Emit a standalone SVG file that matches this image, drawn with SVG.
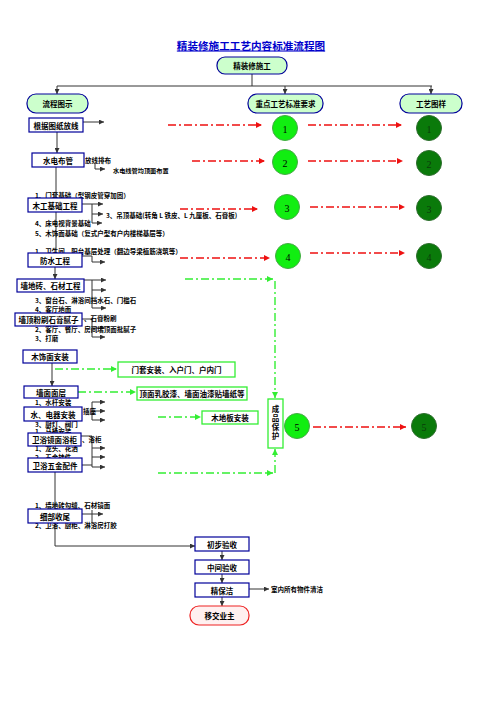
<svg xmlns="http://www.w3.org/2000/svg" width="503" height="711" viewBox="0 0 503 711">
<style>
text{font-family:"Noto Sans CJK SC","Liberation Sans",sans-serif;font-weight:bold;fill:#000}
.t{font-size:7.5px;text-anchor:middle;dominant-baseline:central}
.a{font-size:6.5px;dominant-baseline:central}
.box{fill:#fff;stroke:#000099;stroke-width:1.2}
.rbox{fill:#ccffcc;stroke:#000099;stroke-width:1.2}
.gbox{fill:#fff;stroke:#33ee33;stroke-width:1.3}
.ln{fill:none;stroke:#333;stroke-width:1}
.red{fill:none;stroke:#ee1111;stroke-width:1.4;stroke-dasharray:8 3 2 3}
.grn{fill:none;stroke:#33ee33;stroke-width:1.4;stroke-dasharray:8 3 2 3}
.c1{fill:#11ee11;stroke:#44aa44;stroke-width:1}
.c2{fill:#0a7a0a;stroke:#2d6d2d;stroke-width:1}
.n{font-family:"Liberation Serif",serif;font-weight:normal;font-size:10px;text-anchor:middle;dominant-baseline:central}
</style>
<defs>
<marker id="ak" viewBox="0 0 10 10" refX="10" refY="5" markerWidth="5" markerHeight="5" markerUnits="userSpaceOnUse" orient="auto"><path d="M0,0L10,5L0,10z" fill="#333"/></marker>
<marker id="ar" viewBox="0 0 10 10" refX="10" refY="5" markerWidth="6" markerHeight="6" markerUnits="userSpaceOnUse" orient="auto"><path d="M0,0L10,5L0,10z" fill="#ee1111"/></marker>
<marker id="ag" viewBox="0 0 10 10" refX="10" refY="5" markerWidth="6" markerHeight="6" markerUnits="userSpaceOnUse" orient="auto"><path d="M0,0L10,5L0,10z" fill="#33ee33"/></marker>
</defs>

<text x="251" y="45" style="font-size:10.6px;text-anchor:middle;dominant-baseline:central;fill:#0000cc;text-decoration:underline">精装修施工工艺内容标准流程图</text>

<g id="connectors">
<path class="ln" d="M252,74V86M57,86H432"/>
<path class="ln" d="M57,86V94" marker-end="url(#ak)"/>
<path class="ln" d="M285,86V94" marker-end="url(#ak)"/>
<path class="ln" d="M431,86V94" marker-end="url(#ak)"/>
<path class="ln" d="M57,132V153" marker-end="url(#ak)"/>
<path class="ln" d="M83,122H104" marker-end="url(#ak)"/>
<path class="ln" d="M56,167V198"/>
<path class="ln" d="M95,164V169H105" marker-end="url(#ak)"/>
<path class="ln" d="M56,212V253"/>
<path class="ln" d="M82,204H103" marker-end="url(#ak)"/>
<path class="ln" d="M92,204V223"/>
<path class="ln" d="M92,214H103" marker-end="url(#ak)"/>
<path class="ln" d="M92,223H102" marker-end="url(#ak)"/>
<path class="ln" d="M82,256H92V262H105" marker-end="url(#ak)"/>
<path class="ln" d="M55,267V279" marker-end="url(#ak)"/>
<path class="ln" d="M84,280H106" marker-end="url(#ak)"/>
<path class="ln" d="M92,280V308"/>
<path class="ln" d="M92,290H106" marker-end="url(#ak)"/>
<path class="ln" d="M92,308H106" marker-end="url(#ak)"/>
<path class="ln" d="M82,319H92V337H105" marker-end="url(#ak)"/>
<path class="ln" d="M92,328H105" marker-end="url(#ak)"/>
<path class="ln" d="M52,363V386" marker-end="url(#ak)"/>
<path class="ln" d="M92,402V420"/>
<path class="ln" d="M92,402H105" marker-end="url(#ak)"/>
<path class="ln" d="M92,411H105" marker-end="url(#ak)"/>
<path class="ln" d="M92,420H105" marker-end="url(#ak)"/>
<path class="ln" d="M81,436H92V467"/>
<path class="ln" d="M82,465H92"/>
<path class="ln" d="M92,448H105" marker-end="url(#ak)"/>
<path class="ln" d="M92,457H105" marker-end="url(#ak)"/>
<path class="ln" d="M92,467H105" marker-end="url(#ak)"/>
<path class="ln" d="M55,472V509"/>
<path class="ln" d="M82,514H103" marker-end="url(#ak)"/>
<path class="ln" d="M92,510V524"/>
<path class="ln" d="M55,523V546H195" marker-end="url(#ak)"/>
<path class="ln" d="M222,551V560" marker-end="url(#ak)"/>
<path class="ln" d="M222,574V583" marker-end="url(#ak)"/>
<path class="ln" d="M222,597V606" marker-end="url(#ak)"/>
<path class="ln" d="M249,589H269" marker-end="url(#ak)"/>

<path class="red" d="M168,125H262" marker-end="url(#ar)"/>
<path class="red" d="M308,125H402" marker-end="url(#ar)"/>
<path class="red" d="M192,161H265" marker-end="url(#ar)"/>
<path class="red" d="M308,161H403" marker-end="url(#ar)"/>
<path class="red" d="M180,209H258" marker-end="url(#ar)"/>
<path class="red" d="M310,207H405" marker-end="url(#ar)"/>
<path class="red" d="M180,258H270" marker-end="url(#ar)"/>
<path class="red" d="M310,253H405" marker-end="url(#ar)"/>
<path class="red" d="M313,427H406" marker-end="url(#ar)"/>

<path class="grn" d="M185,279H273" marker-end="url(#ag)"/>
<path class="grn" d="M275,281V398" marker-end="url(#ag)"/>
<path class="grn" d="M55,369H117" marker-end="url(#ag)"/>
<path class="grn" d="M78,392H136" marker-end="url(#ag)"/>
<path class="grn" d="M158,417H201" marker-end="url(#ag)"/>
<path class="grn" d="M158,473H273" marker-end="url(#ag)"/>
<path class="grn" d="M275,473V449" marker-end="url(#ag)"/>
</g>

<g id="notes">
<text class="a" x="85" y="160">放线排布</text>
<text class="a" x="113" y="170" style="font-size:6.2px">水电线管均顶面布置</text>
<text class="a" x="35" y="195">1、门套基础（型钢皮管穿加固）</text>
<text class="a" x="106" y="215">3、吊顶基础(转角 L 铁皮、L 九厘板、石膏板)</text>
<text class="a" x="35" y="223">4、床电视背景基础</text>
<text class="a" x="35" y="233">5、木饰面基础（复式户型有户内楼梯基层等）</text>
<text class="a" x="35" y="251">1、卫生间、阳台基层处理（翻边导梁植筋浇筑等）</text>
<text class="a" x="35" y="299.5">3、窗台石、淋浴间挡水石、门槛石</text>
<text class="a" x="35" y="308.5">4、客厅地面</text>
<text class="a" x="84" y="318">、石膏粉刷</text>
<text class="a" x="35" y="328.5">2、客厅、餐厅、房间墙顶面批腻子</text>
<text class="a" x="35" y="337.5">3、打磨</text>
<text class="a" x="35" y="402">1、水杆安装</text>
<text class="a" x="83" y="411">插座</text>
<text class="a" x="35" y="424">3、厨灯、阀门</text>
<text class="a" x="35" y="431">1、马桶安装</text>
<text class="a" x="82" y="439">、浴柜</text>
<text class="a" x="35" y="448">1、龙头、花洒</text>
<text class="a" x="35" y="456.5">2、五金挂件</text>
<text class="a" x="35" y="505">1、墙地砖勾缝、石材镜面</text>
<text class="a" x="35" y="525">2、卫浴、厨柜、淋浴房打胶</text>
<text class="a" x="271" y="589">室内所有物件清洁</text>
</g>

<g id="n-top"><rect class="rbox" x="217" y="57" width="70" height="17" rx="8"/><text class="t" x="252" y="65.5">精装修施工</text></g>
<g id="n-flow"><rect class="rbox" x="27" y="94" width="61" height="19" rx="9"/><text class="t" x="57.5" y="103.5">流程图示</text></g>
<g id="n-req"><rect class="rbox" x="248" y="94" width="75" height="19" rx="9"/><text class="t" x="285.5" y="103.5">重点工艺标准要求</text></g>
<g id="n-img"><rect class="rbox" x="400" y="94" width="62" height="19" rx="9"/><text class="t" x="431" y="103.5">工艺图样</text></g>

<g id="n1"><rect class="box" x="29" y="118" width="54" height="14"/><text class="t" x="56" y="125">根据图纸放线</text></g>
<g id="n2"><rect class="box" x="32" y="153" width="52" height="14"/><text class="t" x="58" y="160">水电布管</text></g>
<g id="n3"><rect class="box" x="28" y="198" width="54" height="14"/><text class="t" x="55" y="205">木工基础工程</text></g>
<g id="n4"><rect class="box" x="28" y="253" width="54" height="14"/><text class="t" x="55" y="260">防水工程</text></g>
<g id="n5"><rect class="box" x="17" y="279" width="67" height="13"/><text class="t" x="50.5" y="285.5">墙地砖、石材工程</text></g>
<g id="n6"><rect class="box" x="15" y="313" width="67" height="13"/><text class="t" x="48.5" y="319.5">墙顶粉刷石膏腻子</text></g>
<g id="n7"><rect class="box" x="23" y="350" width="54" height="13"/><text class="t" x="50" y="356.5">木饰面安装</text></g>
<g id="n8"><rect class="box" x="24" y="386" width="54" height="12"/><text class="t" x="51" y="392">墙面面层</text></g>
<g id="n9"><rect class="box" x="24" y="407" width="58" height="14"/><text class="t" x="53" y="414">水、电器安装</text></g>
<g id="n10"><rect class="box" x="28" y="433" width="53" height="13"/><text class="t" x="54.5" y="439.5">卫浴镜面浴柜</text></g>
<g id="n11"><rect class="box" x="28" y="458" width="54" height="14"/><text class="t" x="55" y="465">卫浴五金配件</text></g>
<g id="n12"><rect class="box" x="28" y="509" width="54" height="14"/><text class="t" x="55" y="516">细部收尾</text></g>
<g id="n13"><rect class="box" x="195" y="537" width="54" height="14"/><text class="t" x="222" y="544">初步验收</text></g>
<g id="n14"><rect class="box" x="195" y="560" width="54" height="14"/><text class="t" x="222" y="567">中间验收</text></g>
<g id="n15"><rect class="box" x="195" y="583" width="54" height="14"/><text class="t" x="222" y="590">精保洁</text></g>
<g id="n16"><rect x="190" y="606" width="59" height="19" rx="9" fill="#fff0f0" stroke="#ee2222" stroke-width="1.2"/><text class="t" x="219.5" y="615.5">移交业主</text></g>

<g id="g1"><rect class="gbox" x="118" y="362" width="117" height="15"/><text class="t" x="176.5" y="369.5">门套安装、入户门、户内门</text></g>
<g id="g2"><rect class="gbox" x="137" y="387" width="110" height="13"/><text class="t" x="192" y="393.5">顶面乳胶漆、墙面油漆贴墙纸等</text></g>
<g id="g3"><rect class="gbox" x="202" y="411" width="56" height="13"/><text class="t" x="230" y="417.5">木地板安装</text></g>
<g id="g4"><rect class="gbox" x="268" y="399" width="15" height="49"/><text class="t" x="275.5" y="408">成</text><text class="t" x="275.5" y="417">品</text><text class="t" x="275.5" y="426">保</text><text class="t" x="275.5" y="435">护</text></g>

<g id="c1"><circle class="c1" cx="285" cy="128" r="12.5"/><text class="n" x="285" y="129">1</text></g>
<g id="c2"><circle class="c1" cx="285" cy="162" r="12.5"/><text class="n" x="285" y="163">2</text></g>
<g id="c3"><circle class="c1" cx="287" cy="207" r="12.5"/><text class="n" x="287" y="208">3</text></g>
<g id="c4"><circle class="c1" cx="288" cy="256" r="12.5"/><text class="n" x="288" y="257">4</text></g>
<g id="c5"><circle class="c1" cx="297" cy="426" r="12.5"/><text class="n" x="297" y="427">5</text></g>
<g id="d1"><circle class="c2" cx="429" cy="128" r="12.5"/><text class="n" x="429" y="129" style="fill:#0a3a0a">1</text></g>
<g id="d2"><circle class="c2" cx="429" cy="163" r="12.5"/><text class="n" x="429" y="164" style="fill:#0a3a0a">2</text></g>
<g id="d3"><circle class="c2" cx="429" cy="208" r="12.5"/><text class="n" x="429" y="209" style="fill:#0a3a0a">3</text></g>
<g id="d4"><circle class="c2" cx="429" cy="256" r="12.5"/><text class="n" x="429" y="257" style="fill:#0a3a0a">4</text></g>
<g id="d5"><circle class="c2" cx="424" cy="426" r="12.5"/><text class="n" x="424" y="427" style="fill:#0a3a0a">5</text></g>
</svg>
